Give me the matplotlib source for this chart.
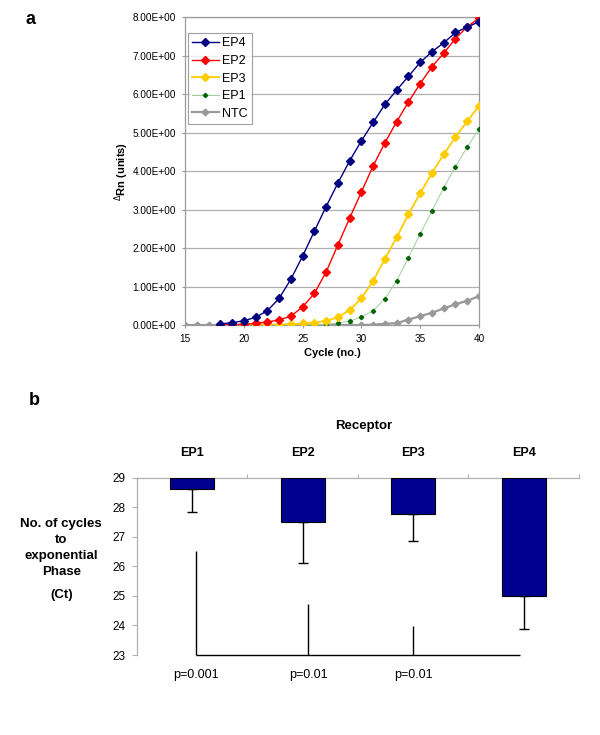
import matplotlib
matplotlib.use("Agg")
import matplotlib.pyplot as plt
import numpy as np

plt.rcParams['font.family'] = ['Liberation Sans', 'DejaVu Sans']

# panel a: amplification curves
cycles = list(range(15, 41))
ep4_cycles = list(range(18, 41))
ep4 = [0.03, 0.06, 0.11, 0.20, 0.37, 0.69, 1.19, 1.79, 2.44, 3.08, 3.69, 4.27,
       4.79, 5.27, 5.74, 6.11, 6.47, 6.83, 7.11, 7.34, 7.61, 7.75, 7.89]
ep2_cycles = list(range(18, 41))
ep2 = [0.01, 0.01, 0.02, 0.04, 0.08, 0.13, 0.23, 0.47, 0.82, 1.38, 2.08, 2.78,
       3.46, 4.14, 4.74, 5.29, 5.80, 6.28, 6.72, 7.07, 7.45, 7.76, 7.98]
ep3_cycles = list(range(19, 41))
ep3 = [0.0, 0.0, 0.01, 0.01, 0.01, 0.02, 0.04, 0.06, 0.11, 0.20, 0.39, 0.69,
       1.15, 1.72, 2.28, 2.88, 3.43, 3.95, 4.44, 4.89, 5.30, 5.70]
ep1_cycles = list(range(19, 41))
ep1 = [0.0, 0.0, 0.0, 0.0, 0.0, 0.01, 0.01, 0.01, 0.02, 0.05, 0.10, 0.21,
       0.37, 0.68, 1.15, 1.75, 2.37, 2.97, 3.57, 4.12, 4.63, 5.10]
ntc = [0.0, 0.0, 0.0, 0.0, 0.0, 0.0, 0.0, 0.0, 0.0, 0.0, 0.0, 0.0, 0.0, 0.0,
       0.0, 0.0, 0.01, 0.03, 0.05, 0.14, 0.23, 0.32, 0.43, 0.54, 0.63, 0.75]

# panel b: Ct values
receptors = ["EP1", "EP2", "EP3", "EP4"]
ct_mean = [28.62, 27.50, 27.77, 25.00]
ct_err = [0.78, 1.40, 0.90, 1.11]
sig_x = [0.03, 1.05, 2.0]
sig_top = [26.52, 24.74, 23.97]
sig_end = 2.97
p_labels = ["p=0.001", "p=0.01", "p=0.01"]

fig = plt.figure(figsize=(6, 7.35), dpi=100)
grey_axis = "#9a9a9a"

# ---------------- panel a ----------------
ax1 = fig.add_axes([0.3083, 0.5578, 0.49, 0.4184])
ax1.set_xlim(15, 40)
ax1.set_ylim(0, 8)
ax1.set_yticks(np.arange(0, 9, 1))
ax1.set_yticklabels(['{:.2E}'.format(v) for v in np.arange(0, 9, 1.0)])
ax1.set_xticks([15, 20, 25, 30, 35, 40])
ax1.yaxis.grid(True, color="#b0b0b0", linewidth=0.9)
ax1.set_axisbelow(True)
for s in ax1.spines.values():
    s.set_color(grey_axis)
    s.set_linewidth(0.9)
ax1.tick_params(axis='both', labelsize=7.2, colors=grey_axis, length=2.5, width=0.8,
                labelcolor='black')
ax1.tick_params(axis='y', pad=4)
ax1.tick_params(axis='x', pad=4)

ax1.plot(cycles, ntc, color="#999999", lw=1.6, marker='D', ms=3.4, zorder=2)
l1, = ax1.plot(ep1_cycles, ep1, color="#9fcf9f", lw=0.7, marker='D', ms=2.2,
               mfc="#006400", mec="#006400", zorder=3)
l3, = ax1.plot(ep3_cycles, ep3, color="#ffcc00", lw=1.3, marker='D', ms=3.6,
               zorder=4)
l2, = ax1.plot(ep2_cycles, ep2, color="#ff0000", lw=1.0, marker='D', ms=3.6,
               zorder=5)
l4, = ax1.plot(ep4_cycles, ep4, color="#000080", lw=1.0, marker='D', ms=3.6,
               zorder=6)
ln, = ax1.plot([], [], color="#999999", lw=1.6, marker='D', ms=3.4)

leg = ax1.legend([l4, l2, l3, l1, ln], ["EP4", "EP2", "EP3", "EP1", "NTC"],
                 loc='upper left', bbox_to_anchor=(0.0102, 0.9496),
                 borderaxespad=0, fontsize=9, frameon=True, fancybox=False,
                 handlelength=2.1, handletextpad=0.3, labelspacing=0.45,
                 borderpad=0.35)
leg.get_frame().set_edgecolor("#888888")
leg.get_frame().set_linewidth(0.8)

ax1.set_xlabel("Cycle (no.)", fontsize=8, fontweight='bold', labelpad=3)
fig.text(0.2028, 0.767, r"$^{\Delta}$Rn (units)", rotation=90, fontsize=8,
         fontweight='bold', ha='center', va='center')
fig.text(0.05, 1 - 20 / 735, "a", fontsize=13, fontweight='bold',
         ha='center', va='center')

# ---------------- panel b ----------------
ax2 = fig.add_axes([0.2283, 0.1088, 0.7367, 0.2412])
x = np.arange(len(receptors))
ax2.set_xlim(-0.5, 3.5)
ax2.set_ylim(23, 29)
ax2.bar(x, [v - 29 for v in ct_mean], bottom=29, width=0.4, color="#000090",
        edgecolor="black", linewidth=0.8, zorder=3)
ax2.errorbar(x, ct_mean, yerr=[ct_err, [0] * 4], fmt='none', ecolor='black',
             elinewidth=1.0, capsize=3.5, capthick=1.0, zorder=4)

ax2.vlines(sig_x, 23, sig_top, color='black', lw=1.0, clip_on=False)
ax2.hlines(23, sig_x[0], sig_end, color='black', lw=1.0, clip_on=False)
for xi, lab in zip(sig_x, p_labels):
    ax2.text(xi, 22.33, lab, ha='center', va='center', fontsize=9)

for sp in ['right', 'bottom']:
    ax2.spines[sp].set_visible(False)
for sp in ['left', 'top']:
    ax2.spines[sp].set_color("#b0b0b0")
    ax2.spines[sp].set_linewidth(0.9)
ax2.xaxis.set_ticks_position('top')
ax2.set_xticks([0.5, 1.5, 2.5, 3.5])
ax2.set_xticklabels([])
ax2.tick_params(axis='x', length=3, colors="#b0b0b0", width=0.8)
ax2.set_yticks(range(23, 30))
ax2.tick_params(axis='y', length=3.5, colors="#b0b0b0", width=0.8,
                labelcolor='black', labelsize=8.5, pad=5)

for xi, lab in zip(x, receptors):
    ax2.text(xi, 29.83, lab, ha='center', va='center', fontsize=9,
             fontweight='bold')
ax2.text(1.55, 30.76, "Receptor", ha='center', va='center', fontsize=9.5,
         fontweight='bold')

fig.text(0.102, 1 - 548 / 735, "No. of cycles\nto\nexponential\nPhase",
         ha='center', va='center', fontsize=9.5, fontweight='bold',
         linespacing=1.42)
fig.text(0.102, 1 - 595 / 735, "(Ct)", ha='center', va='center', fontsize=9.5,
         fontweight='bold')
fig.text(34 / 600, 1 - 400 / 735, "b", fontsize=13, fontweight='bold',
         ha='center', va='center')

fig.savefig("out.png", dpi=100)
